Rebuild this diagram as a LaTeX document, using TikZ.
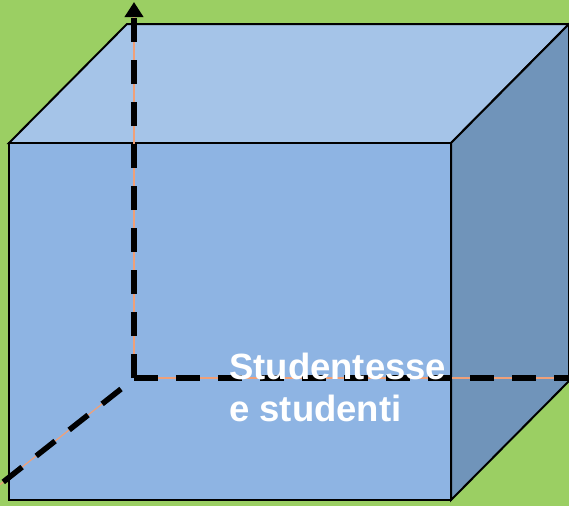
\documentclass[tikz,border=0pt]{standalone}
\usepackage{fontspec}
\setmainfont{Liberation Sans}
\usetikzlibrary{arrows.meta}
\definecolor{bggreen}{HTML}{9BCF63}
\definecolor{frontblue}{HTML}{8EB4E3}
\definecolor{topblue}{HTML}{A5C4E8}
\definecolor{sideblue}{HTML}{7094BA}
\definecolor{axisorange}{HTML}{F0A078}
\tikzset{
  edge/.style={draw=black, line width=2pt, line join=miter},
  guide/.style={draw=axisorange, line width=1.2pt},
  axisdash/.style={draw=black, line width=5.5pt, dash pattern=on 24pt off 18pt},
  lbl/.style={text=white, font=\bfseries\fontsize{36.5pt}{42pt}\selectfont, inner sep=0pt, anchor=base west}
}
\begin{document}
\begin{tikzpicture}[x=1pt,y=-1pt]
\useasboundingbox (0,0) rectangle (569,506);
\clip (0,0) rectangle (569,506);
\fill[bggreen] (0,0) rectangle (569,506);
% cube corners
\coordinate (fTL) at (9,143);
\coordinate (fTR) at (451,143);
\coordinate (fBR) at (451,500);
\coordinate (fBL) at (9,500);
\coordinate (bTL) at (127,24);
\coordinate (bTR) at (569,24);
\coordinate (bBR) at (569,381);
% faces
\path[edge, fill=topblue] (fTL) -- (fTR) -- (bTR) -- (bTL) -- cycle;
\path[edge, fill=sideblue] (fTR) -- (bTR) -- (bBR) -- (fBR) -- cycle;
\path[edge, fill=frontblue] (fTL) rectangle (fBR);
% axes
\coordinate (o) at (134,378);
\coordinate (ytop) at (134,2);
\coordinate (yarrowbase) at (134,17);
\coordinate (xend) at (575,378);
\coordinate (zstart) at (121,389);
\coordinate (zend) at (-12,494);
\draw[guide] (o) -- (yarrowbase);
\draw[guide] (o) -- (xend);
\draw[guide] (zstart) -- (zend);
\draw[axisdash, -{Triangle[length=15pt,width=18pt]}] (o) -- (ytop);
\draw[axisdash] (o) -- (xend);
\draw[axisdash] (zstart) -- (zend);
% label
\node[lbl] (l1) at (229,379) {Studentesse};
\node[lbl] (l2) at (229,421) {e studenti};
\end{tikzpicture}
\end{document}
